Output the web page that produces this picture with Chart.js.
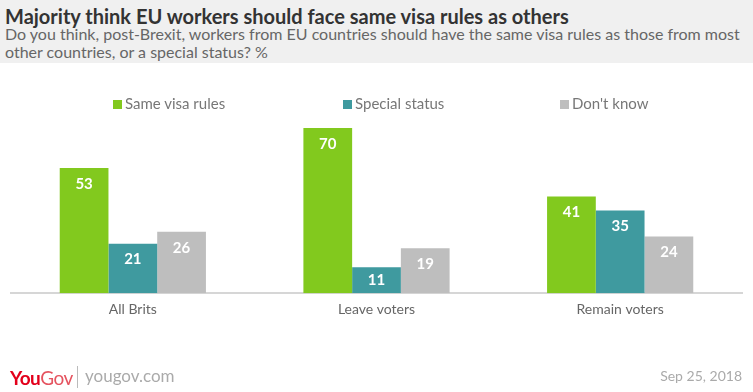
<!DOCTYPE html>
<html>
<head>
<meta charset="utf-8">
<script src="https://cdn.jsdelivr.net/npm/chart.js@4/dist/chart.umd.min.js"></script>
<style>
  body { margin: 0; background: #fff; font-family: Lato, "Open Sans", sans-serif; }
  #wrap { position: relative; width: 753px; height: 392px; overflow: hidden; }
  #head { position: absolute; left: 0; top: 0; width: 753px; height: 63px; background: #f0f0f0; }
  #title { position: absolute; left: 5px; top: 4px; font-size: 20px; font-weight: bold; color: #333; white-space: nowrap; }
  #sub { position: absolute; left: 5px; top: 25px; font-size: 16px; color: #666; line-height: 18px; width: 740px; }
  #chart { position: absolute; left: 0; top: 0; }
  .leg { position: absolute; top: 94px; font-size: 15px; color: #777; white-space: nowrap; }
  .leg span { display: inline-block; width: 9px; height: 9px; margin-right: 3px; }
  #logo { position: absolute; left: 10px; top: 366px; font-size: 19px; font-weight: bold; color: #e3001b; letter-spacing: -0.5px; }
  #logo i { font-style: normal; font-weight: normal; color: #e5535f; }
  #sep { position: absolute; left: 77px; top: 366px; width: 1px; height: 22px; background: #bbb; }
  #site { position: absolute; left: 85px; top: 365px; font-size: 17px; color: #aaa; line-height: 22px; }
  #date { position: absolute; right: 11px; top: 367px; font-size: 14px; color: #aaa; }
</style>
</head>
<body>
<div id="wrap">
  <div id="head">
    <div id="title">Majority think EU workers should face same visa rules as others</div>
    <div id="sub">Do you think, post-Brexit, workers from EU countries should have the same visa rules as those from most other countries, or a special status? %</div>
  </div>
  <canvas id="chart" width="753" height="392"></canvas>
  <div id="legend"></div>
  <div id="logo">You<i>Gov</i></div>
  <div id="sep"></div>
  <div id="site">yougov.com</div>
  <div id="date">Sep 25, 2018</div>
</div>
<script>
var categories = ["All Brits", "Leave voters", "Remain voters"];
var seriesNames = ["Same visa rules", "Special status", "Don't know"];
var sameVisa = [53, 70, 41];
var specialStatus = [21, 11, 35];
var dontKnow = [26, 19, 24];
var colors = ["#82c91e", "#3f9a9f", "#bebebe"];
var legendX = [113, 343, 560];

var valueLabels = {
    id: "valueLabels",
    afterDatasetsDraw: function(chart) {
        var ctx = chart.ctx;
        ctx.save();
        ctx.fillStyle = "#fff";
        ctx.font = "bold 15px Lato, sans-serif";
        ctx.textAlign = "center";
        ctx.textBaseline = "middle";
        chart.data.datasets.forEach(function(ds, i) {
            chart.getDatasetMeta(i).data.forEach(function(bar, j) {
                var h = bar.base - bar.y;
                var off = Math.min(16, h / 2);
                ctx.fillText(ds.data[j], bar.x, bar.y + off);
            });
        });
        ctx.restore();
    }
};

var ctx = document.getElementById("chart");
var chart = new Chart(ctx, {
    type: "bar",
    data: {
        labels: categories,
        datasets: [
            { label: seriesNames[0], data: sameVisa, backgroundColor: colors[0] },
            { label: seriesNames[1], data: specialStatus, backgroundColor: colors[1] },
            { label: seriesNames[2], data: dontKnow, backgroundColor: colors[2] }
        ]
    },
    options: {
        responsive: false,
        animation: false,
        layout: { padding: { left: 11, right: 11, top: 128, bottom: 66 } },
        datasets: { bar: { categoryPercentage: 0.6, barPercentage: 1.0 } },
        plugins: { legend: { display: false }, tooltip: { enabled: false } },
        scales: {
            x: {
                grid: { display: false, drawTicks: false },
                border: { color: "#d6d6d6", width: 2 },
                ticks: { color: "#666", font: { family: "Lato", size: 14 }, padding: 8 }
            },
            y: { display: false, min: 0, max: 70 }
        }
    },
    plugins: [valueLabels]
});

// legend from the datasets
var leg = document.getElementById("legend");
chart.data.datasets.forEach(function(ds, i) {
    var d = document.createElement("div");
    d.className = "leg";
    d.style.left = legendX[i] + "px";
    d.innerHTML = '<span style="background:' + ds.backgroundColor + '"></span>' + ds.label;
    leg.appendChild(d);
});
</script>
</body>
</html>
